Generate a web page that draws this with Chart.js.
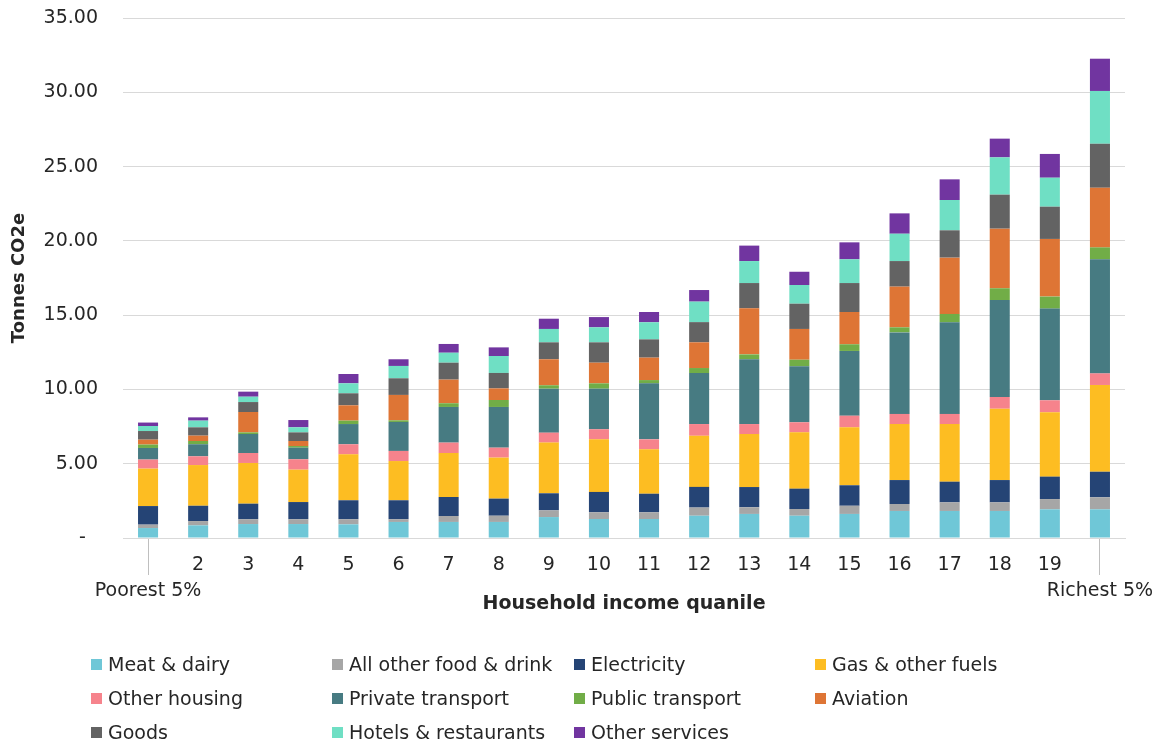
<!DOCTYPE html>
<html>
<head>
<meta charset="utf-8">
<script src="https://cdn.jsdelivr.net/npm/chart.js@4.4.0/dist/chart.umd.min.js"></script>
<style>
  html, body { margin: 0; padding: 0; background: #ffffff; }
  #wrap { position: relative; width: 1176px; height: 744px; overflow: hidden; }
  #chart { position: absolute; left: 0; top: 0; }
  #legend { position: absolute; left: 0; top: 0; width: 1176px; height: 744px;
            font-family: "DejaVu Sans", sans-serif; font-size: 19px; color: #262626; }
  .item { position: absolute; display: flex; align-items: center; white-space: nowrap; height: 24px; }
  .box { width: 11px; height: 11px; margin-right: 6px; flex: none; }
</style>
</head>
<body>
<div id="wrap">
  <canvas id="chart" width="1176" height="640" style="width:1176px;height:640px"></canvas>
  <div id="legend"></div>
</div>
<script>
// Household income groups (5% bands)
const categories = [["", "Poorest 5%"], "2", "3", "4", "5", "6", "7", "8", "9", "10",
  "11", "12", "13", "14", "15", "16", "17", "18", "19", ["", "Richest 5%"]];

// Tonnes CO2e per household, by consumption category
const meatDairy      = [0.67, 0.85, 0.94, 0.94, 0.92, 1.08, 1.08, 1.08, 1.41, 1.28, 1.28, 1.50, 1.62, 1.50, 1.62, 1.82, 1.82, 1.82, 1.93, 1.93];
const otherFood      = [0.23, 0.29, 0.32, 0.32, 0.34, 0.18, 0.40, 0.42, 0.45, 0.45, 0.45, 0.55, 0.45, 0.45, 0.55, 0.47, 0.58, 0.58, 0.69, 0.81];
const electricity    = [1.25, 1.03, 1.05, 1.16, 1.28, 1.28, 1.28, 1.15, 1.15, 1.37, 1.25, 1.39, 1.36, 1.37, 1.38, 1.61, 1.39, 1.50, 1.51, 1.72];
const gasFuels       = [2.52, 2.74, 2.74, 2.18, 3.09, 2.64, 2.96, 2.76, 3.41, 3.54, 2.99, 3.44, 3.57, 3.79, 3.90, 3.77, 3.88, 4.80, 4.33, 5.84];
const otherHousing   = [0.61, 0.59, 0.67, 0.70, 0.68, 0.68, 0.70, 0.67, 0.67, 0.68, 0.67, 0.79, 0.67, 0.68, 0.78, 0.68, 0.68, 0.79, 0.81, 0.78];
const privateTrans   = [0.78, 0.81, 1.28, 0.78, 1.36, 1.95, 2.40, 2.74, 2.96, 2.73, 3.77, 3.43, 4.36, 3.77, 4.36, 5.49, 6.17, 6.53, 6.17, 7.68];
const publicTrans    = [0.23, 0.22, 0.11, 0.11, 0.23, 0.11, 0.25, 0.47, 0.23, 0.36, 0.22, 0.34, 0.33, 0.44, 0.45, 0.34, 0.56, 0.79, 0.81, 0.80];
const aviation       = [0.33, 0.36, 1.37, 0.34, 1.03, 1.71, 1.59, 0.78, 1.75, 1.39, 1.51, 1.73, 3.10, 2.07, 2.17, 2.74, 3.79, 4.01, 3.88, 4.02];
const goods          = [0.58, 0.56, 0.67, 0.58, 0.81, 1.12, 1.14, 1.04, 1.14, 1.37, 1.23, 1.36, 1.70, 1.70, 1.95, 1.72, 1.84, 2.29, 2.17, 2.96];
const hotelsRest     = [0.34, 0.45, 0.36, 0.34, 0.67, 0.83, 0.67, 1.14, 0.90, 1.01, 1.15, 1.38, 1.48, 1.26, 1.60, 1.84, 2.04, 2.51, 1.95, 3.55];
const otherServices  = [0.23, 0.22, 0.34, 0.49, 0.63, 0.45, 0.59, 0.58, 0.69, 0.69, 0.69, 0.78, 1.04, 0.89, 1.14, 1.37, 1.39, 1.26, 1.60, 2.17];

const seriesNames = ["Meat & dairy", "All other food & drink", "Electricity", "Gas & other fuels",
  "Other housing", "Private transport", "Public transport", "Aviation",
  "Goods", "Hotels & restaurants", "Other services"];
const seriesValues = [meatDairy, otherFood, electricity, gasFuels, otherHousing, privateTrans,
  publicTrans, aviation, goods, hotelsRest, otherServices];
const seriesColors = ["#6fc7d7", "#a6a6a6", "#254475", "#fdbd22", "#f6838c", "#477b82",
  "#71ad47", "#de7535", "#636363", "#6fdfc4", "#7135a0"];

const FONT = "'DejaVu Sans', sans-serif";
const TEXT = "#262626";
const GRID = "#d9d9d9";

const chart = new Chart(document.getElementById("chart"), {
  type: "bar",
  data: {
    labels: categories,
    datasets: seriesNames.map((name, i) => ({
      label: name,
      data: seriesValues[i],
      backgroundColor: seriesColors[i],
      borderWidth: 0,
      barPercentage: 0.4,
      categoryPercentage: 1.0
    }))
  },
  options: {
    responsive: false,
    animation: false,
    devicePixelRatio: 1,
    layout: { padding: { top: 18, right: 51, left: 0, bottom: 0 } },
    plugins: {
      legend: { display: false },
      tooltip: { enabled: false }
    },
    scales: {
      x: {
        stacked: true,
        grid: {
          display: true,
          offset: false,
          drawOnChartArea: false,
          drawTicks: true,
          tickLength: 37,
          lineWidth: 1,
          color: (ctx) => (ctx.index === 0 || ctx.index === categories.length - 1) ? "#bfbfbf" : "rgba(0,0,0,0)"
        },
        border: { display: true, color: GRID, width: 1 },
        ticks: {
          color: TEXT,
          padding: -23,
          maxRotation: 0,
          autoSkip: false,
          font: { family: FONT, size: 19, lineHeight: 1.37 }
        },
        title: {
          display: true,
          text: "Household income quanile",
          color: TEXT,
          font: { family: FONT, size: 19, weight: "bold", lineHeight: 1.2 },
          padding: { top: 0, bottom: 25 }
        },
        afterFit: (scale) => {
          scale.height = 102;
          scale.paddingLeft = 0;
          scale.paddingRight = 0;
        }
      },
      y: {
        stacked: true,
        min: 0,
        max: 35,
        grid: { color: GRID, lineWidth: 1, drawTicks: false },
        border: { display: false },
        ticks: {
          stepSize: 5,
          padding: 25,
          color: TEXT,
          font: { family: FONT, size: 19 },
          callback: (v) => v === 0 ? "-  " : Number(v).toFixed(2)
        },
        title: {
          display: true,
          text: "Tonnes CO2e",
          color: TEXT,
          font: { family: FONT, size: 18, weight: "bold", lineHeight: 1.2 },
          padding: { top: 9, bottom: 0 }
        },
        afterFit: (scale) => {
          scale.width = 123;
          scale.paddingTop = 0;
          scale.paddingBottom = 0;
        }
      }
    }
  }
});

// Legend laid out as a 4-column grid below the chart
const legendEl = document.getElementById("legend");
const colX = [91, 332, 574, 815];
const rowY = [664, 698, 732];
chart.data.datasets.forEach((ds, i) => {
  const item = document.createElement("div");
  item.className = "item";
  item.style.left = colX[i % 4] + "px";
  item.style.top = (rowY[Math.floor(i / 4)] - 12) + "px";
  const box = document.createElement("span");
  box.className = "box";
  box.style.background = ds.backgroundColor;
  const txt = document.createElement("span");
  txt.textContent = ds.label;
  item.appendChild(box);
  item.appendChild(txt);
  legendEl.appendChild(item);
});
</script>
</body>
</html>
